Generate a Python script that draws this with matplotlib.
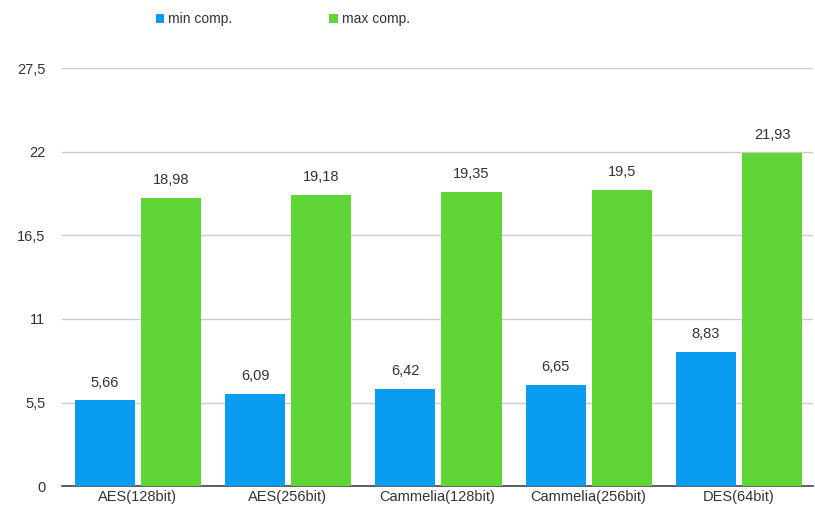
import numpy as np
from matplotlib import pyplot as plt
from matplotlib.ticker import FuncFormatter

plt.rcParams['font.family'] = ['Liberation Sans', 'DejaVu Sans']

categories = ['AES(128bit)', 'AES(256bit)', 'Cammelia(128bit)', 'Cammelia(256bit)', 'DES(64bit)']
min_comp = [5.66, 6.09, 6.42, 6.65, 8.83]
max_comp = [18.98, 19.18, 19.35, 19.5, 21.93]
yticks = [0, 5.5, 11, 16.5, 22, 27.5]

blue = '#0a9cf0'
green = '#5fd537'


def comma(v):
    return f'{v:g}'.replace('.', ',')


fig = plt.figure(figsize=(8.15, 5.2), dpi=100)
ax = fig.add_axes([0.076, 0.065, 0.922, 0.804])

xs = np.arange(len(categories))
w = 0.4
b1 = ax.bar(xs - 0.215, min_comp, w, color=blue, label='min comp.', zorder=3)
b2 = ax.bar(xs + 0.225, max_comp, w, color=green, label='max comp.', zorder=3)

for bars, vals in ((b1, min_comp), (b2, max_comp)):
    for rect, v in zip(bars, vals):
        ax.text(rect.get_x() + rect.get_width() / 2, v + 0.7, comma(v),
                ha='center', va='bottom', fontsize=10.5, color='#333333')

ax.set_xlim(-0.5, len(categories) - 0.5)
ax.set_ylim(0, 27.5)
ax.set_yticks(yticks)
ax.yaxis.set_major_formatter(FuncFormatter(lambda v, p: comma(v)))
ax.set_xticks(xs)
ax.set_xticklabels(categories)
ax.tick_params(axis='both', length=0, labelsize=10.5, colors='#333333')
ax.tick_params(axis='y', pad=12)
ax.tick_params(axis='x', pad=3)
ax.grid(axis='y', color='#cccccc', linewidth=1, zorder=0)
for s in ['top', 'right', 'left']:
    ax.spines[s].set_visible(False)
ax.spines['bottom'].set_color('#444444')
ax.spines['bottom'].set_linewidth(1.2)

fig.legend(loc='center', bbox_to_anchor=(0.347, 0.963), ncol=2, frameon=False,
           fontsize=10, handlelength=0.6, handleheight=0.6, handletextpad=0.3,
           columnspacing=7, labelcolor='#333333')

fig.savefig('out.png')
